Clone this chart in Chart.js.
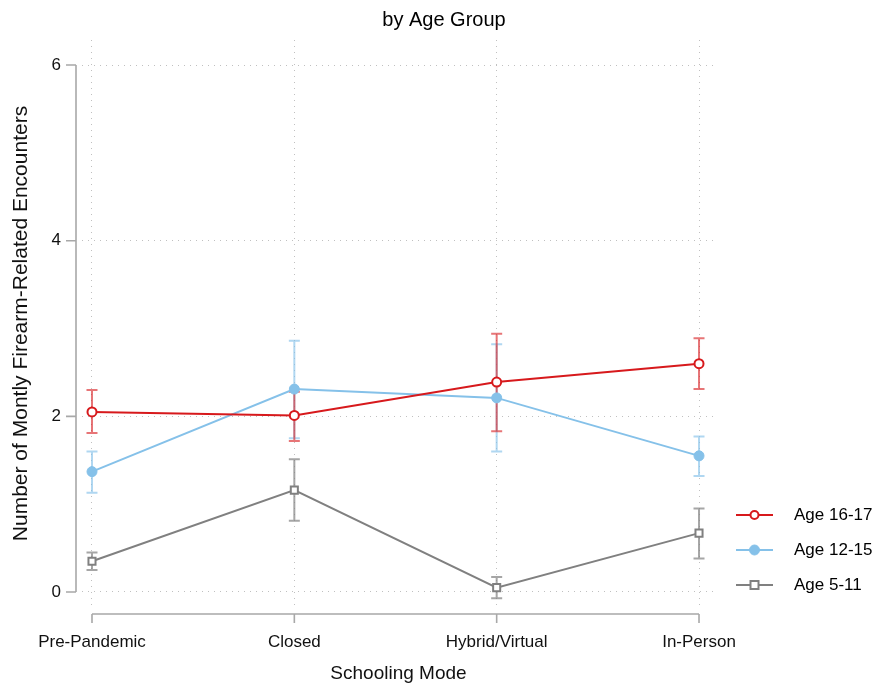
<!DOCTYPE html>
<html><head><meta charset="utf-8">
<script src="https://cdn.jsdelivr.net/npm/chart.js@4.4.0/dist/chart.umd.min.js"></script>
<style>html,body{margin:0;padding:0;background:#fff}#wrap{width:876px;height:692px;position:relative}</style>
</head><body><div id="wrap"><canvas id="c" width="876" height="692"></canvas></div>
<script>
const chartTitle = 'by Age Group';
const xTitle = 'Schooling Mode';
const yTitle = 'Number of Montly Firearm-Related Encounters';
const categories = ['Pre-Pandemic', 'Closed', 'Hybrid/Virtual', 'In-Person'];
const seriesNames = ['Age 16-17', 'Age 12-15', 'Age 5-11'];
const age1617 = [2.05, 2.01, 2.39, 2.60];
const age1617Low = [1.81, 1.72, 1.83, 2.31];
const age1617High = [2.30, 2.28, 2.94, 2.89];
const age1215 = [1.37, 2.31, 2.21, 1.55];
const age1215Low = [1.13, 1.75, 1.60, 1.32];
const age1215High = [1.60, 2.86, 2.82, 1.77];
const age511 = [0.35, 1.16, 0.05, 0.67];
const age511Low = [0.25, 0.81, -0.07, 0.38];
const age511High = [0.45, 1.51, 0.17, 0.95];
const yTicks = [0, 2, 4, 6];

const FONT = '"Liberation Sans", Arial, sans-serif';
const RED = 'rgb(215,25,28)', BLUE = 'rgb(133,193,233)', GREY = 'rgb(128,128,128)';

function toPts(arr){ return arr.map((v,i)=>({x:i, y:v})); }

const datasets = [
  {label: seriesNames[0], data: toPts(age1617), low: age1617Low, high: age1617High,
   borderColor: RED, backgroundColor: '#fff', pointBorderColor: RED, pointBackgroundColor: '#fff',
   pointStyle: 'circle', pointRadius: 4.5, pointBorderWidth: 2, borderWidth: 2, errColor: 'rgba(215,25,28,0.6)'},
  {label: seriesNames[1], data: toPts(age1215), low: age1215Low, high: age1215High,
   borderColor: BLUE, backgroundColor: BLUE, pointBorderColor: BLUE, pointBackgroundColor: BLUE,
   pointStyle: 'circle', pointRadius: 5, pointBorderWidth: 1, borderWidth: 2, errColor: 'rgba(133,193,233,0.65)'},
  {label: seriesNames[2], data: toPts(age511), low: age511Low, high: age511High,
   borderColor: GREY, backgroundColor: '#fff', pointBorderColor: GREY, pointBackgroundColor: '#fff',
   pointStyle: 'rect', pointRadius: 5, pointBorderWidth: 2, borderWidth: 2, errColor: 'rgba(128,128,128,0.7)'}
];

const errorBars = {
  id: 'errorBars',
  beforeDatasetsDraw(chart){
    const ctx = chart.ctx, xs = chart.scales.x, ys = chart.scales.y;
    for (let d = chart.data.datasets.length - 1; d >= 0; d--){
      const ds = chart.data.datasets[d];
      ctx.save();
      ctx.strokeStyle = ds.errColor; ctx.lineWidth = 2;
      ds.low.forEach((lo, i) => {
        const x = xs.getPixelForValue(i), y1 = ys.getPixelForValue(lo), y2 = ys.getPixelForValue(ds.high[i]);
        ctx.beginPath();
        ctx.moveTo(x, y1); ctx.lineTo(x, y2);
        ctx.moveTo(x - 5.5, y1); ctx.lineTo(x + 5.5, y1);
        ctx.moveTo(x - 5.5, y2); ctx.lineTo(x + 5.5, y2);
        ctx.stroke();
      });
      ctx.restore();
    }
  }
};

const axesAndLegend = {
  id: 'axesAndLegend',
  afterDraw(chart){
    const ctx = chart.ctx, xs = chart.scales.x, ys = chart.scales.y, ca = chart.chartArea;
    ctx.save();
    ctx.strokeStyle = '#a8a8a8'; ctx.lineWidth = 1.6;
    // y axis
    const ax = ca.left - 6;
    ctx.beginPath();
    ctx.moveTo(ax, ys.getPixelForValue(yTicks[yTicks.length-1]));
    ctx.lineTo(ax, ys.getPixelForValue(yTicks[0]));
    yTicks.forEach(v => { const y = ys.getPixelForValue(v); ctx.moveTo(ax - 10, y); ctx.lineTo(ax, y); });
    ctx.stroke();
    // x axis
    const ay = ca.bottom + 7;
    ctx.beginPath();
    ctx.moveTo(xs.getPixelForValue(0), ay);
    ctx.lineTo(xs.getPixelForValue(categories.length - 1), ay);
    categories.forEach((c, i) => { const x = xs.getPixelForValue(i); ctx.moveTo(x, ay); ctx.lineTo(x, ay + 9); });
    ctx.stroke();
    // title
    ctx.fillStyle = '#000';
    ctx.font = '20px ' + FONT;
    ctx.textAlign = 'center'; ctx.textBaseline = 'middle';
    ctx.fillText(chartTitle, 444, 20);
    // legend
    const rows = [515, 550, 585];
    chart.data.datasets.forEach((ds, i) => {
      const y = rows[i];
      ctx.strokeStyle = ds.borderColor; ctx.lineWidth = 2;
      ctx.beginPath(); ctx.moveTo(736, y); ctx.lineTo(773, y); ctx.stroke();
      ctx.lineWidth = ds.pointBorderWidth;
      ctx.fillStyle = ds.pointBackgroundColor;
      if (ds.pointStyle === 'rect'){
        const r = 4;
        ctx.fillRect(754.5 - r, y - r, 2*r, 2*r);
        ctx.lineWidth = 2; ctx.strokeRect(754.5 - r, y - r, 2*r, 2*r);
      } else {
        const r = ds.pointBackgroundColor === '#fff' ? 4 : 5;
        ctx.beginPath(); ctx.arc(754.5, y, r, 0, Math.PI*2); ctx.fill(); ctx.stroke();
      }
      ctx.fillStyle = '#000';
      ctx.font = '17px ' + FONT;
      ctx.textAlign = 'left'; ctx.textBaseline = 'middle';
      ctx.fillText(ds.label, 794, y);
    });
    ctx.restore();
  }
};

new Chart(document.getElementById('c'), {
  type: 'line',
  data: { datasets },
  options: {
    responsive: false,
    animation: false,
    devicePixelRatio: 1,
    layout: { padding: { top: 40, right: 161, left: 0, bottom: 0 } },
    plugins: { legend: { display: false }, title: { display: false }, tooltip: { enabled: false } },
    scales: {
      x: {
        type: 'linear', min: -0.0494, max: 3.079,
        afterBuildTicks(scale){ scale.ticks = categories.map((c, i) => ({ value: i })); },
        afterFit(scale){ scale.height = 85; },
        ticks: { callback: (v) => categories[v] ?? '', color: '#111', font: { size: 17, family: FONT }, padding: 25, maxRotation: 0, autoSkip: false },
        grid: { color: '#c0c0c0', lineWidth: 1, drawTicks: false },
        border: { display: false, dash: [1, 5] },
        title: { display: true, text: xTitle, color: '#111', font: { size: 19, family: FONT }, padding: { top: 0, bottom: 7 } }
      },
      y: {
        type: 'linear', min: -0.171, max: 6.285,
        afterBuildTicks(scale){ scale.ticks = yTicks.map(v => ({ value: v })); },
        afterFit(scale){ scale.width = 82; },
        ticks: { color: '#111', font: { size: 17, family: FONT }, padding: 21 },
        grid: { color: '#c0c0c0', lineWidth: 1, drawTicks: false },
        border: { display: false, dash: [1, 5] },
        title: { display: true, text: yTitle, color: '#111', font: { size: 21, family: FONT }, padding: { top: 9, bottom: 0 } }
      }
    }
  },
  plugins: [errorBars, axesAndLegend]
});
</script>
</body></html>
